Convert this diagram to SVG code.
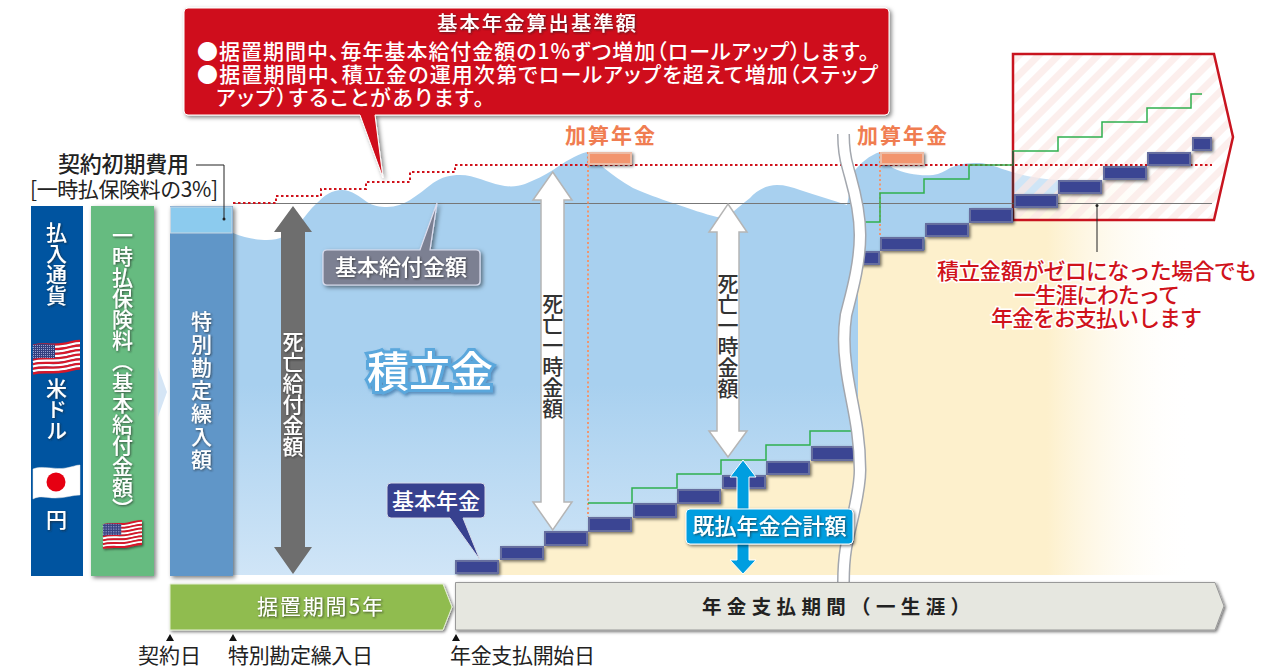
<svg xmlns="http://www.w3.org/2000/svg" width="1284" height="666" viewBox="0 0 1284 666">
<style>
text{font-family:"Noto Sans CJK JP","Liberation Sans",sans-serif}
.v{writing-mode:vertical-rl;text-anchor:start;font-size:21px;fill:#fff;font-weight:500}
.m{text-anchor:middle}
.ts{filter:url(#ts)}
.p{font-feature-settings:"palt";font-weight:500}
.bar{fill:#3a4493;stroke:#666e9f;stroke-width:2}
.pe{fill:#f2956e;stroke:#ecbba5;stroke-width:2}
.g{fill:none;stroke:#2fb04f;stroke-width:1.500}
.red{fill:#d0121b;font-size:22px;font-weight:500;paint-order:stroke;stroke:#fff;stroke-width:3px}
.or{fill:#f07d51;font-size:21px;font-weight:700;letter-spacing:2px;text-anchor:middle}
.blk{fill:#222;font-size:21px}
.wa{fill:#fff;stroke:#b5b5b5;stroke-width:1.500}
</style>
<defs>
<filter id="sh" x="-20%" y="-20%" width="150%" height="150%"><feDropShadow dx="2" dy="2" stdDeviation="2" flood-color="#000" flood-opacity=".5"/></filter>
<filter id="sh2" x="-20%" y="-40%" width="150%" height="200%"><feDropShadow dx="1.500" dy="1.500" stdDeviation="1.500" flood-color="#000" flood-opacity=".55"/></filter>
<filter id="ts" x="-20%" y="-20%" width="150%" height="150%"><feDropShadow dx="1" dy="1" stdDeviation=".8" flood-color="#222" flood-opacity=".7"/></filter>
<filter id="glow" x="-20%" y="-30%" width="140%" height="160%"><feDropShadow dx="2" dy="2" stdDeviation="1.500" flood-color="#1d5f96" flood-opacity=".6"/></filter>
<linearGradient id="water" x1="0" y1="0" x2="0" y2="1"><stop offset="0" stop-color="#a8d0ef"/><stop offset=".55" stop-color="#a8d0ef"/><stop offset="1" stop-color="#d0e5f7"/></linearGradient>
<linearGradient id="beige" gradientUnits="userSpaceOnUse" x1="455" y1="0" x2="1195" y2="0"><stop offset="0" stop-color="#fdf0cc"/><stop offset=".8" stop-color="#fdf0cc"/><stop offset="1" stop-color="#fff" stop-opacity="0"/></linearGradient>
<pattern id="hatch" width="14" height="14" patternUnits="userSpaceOnUse" patternTransform="rotate(-45)"><rect width="14" height="14" fill="#fff" fill-opacity=".45"/><rect width="14" height="7" fill="#fce9e6" fill-opacity=".7"/></pattern>
<pattern id="stars" width="2" height="2" patternUnits="userSpaceOnUse"><rect width="2" height="2" fill="#34407f"/><rect width="1" height="1" fill="#9aa2d0"/></pattern>
<path id="w" d="M0,5 C10,2 20,5 30,3 S42,0 47,0" fill="none" stroke-width="2.500"/>
<g id="us">
<use href="#w" stroke="#d7182a"/><use href="#w" y="2.300" stroke="#fff"/><use href="#w" y="4.600" stroke="#d7182a"/><use href="#w" y="6.900" stroke="#fff"/><use href="#w" y="9.200" stroke="#d7182a"/><use href="#w" y="11.500" stroke="#fff"/><use href="#w" y="13.800" stroke="#d7182a"/><use href="#w" y="16.100" stroke="#fff"/><use href="#w" y="18.400" stroke="#d7182a"/><use href="#w" y="20.700" stroke="#fff"/><use href="#w" y="23" stroke="#d7182a"/><use href="#w" y="25.300" stroke="#fff"/><use href="#w" y="27.600" stroke="#d7182a"/>
<path d="M0,4 C7,2 14,3.500 22,3.600 V17 C14,17 7,16 0,18Z" fill="url(#stars)"/>
</g>
</defs>

<g id="background">
<path id="water-area" fill="url(#water)" d="M233,233 C245,238 258,240 267,240 C280,240 287,235 293,230 C303,220 310,209 317,203 C325,195 332,190 342,190 C352,190 360,197 367,202 C373,206 380,207 387,207 C396,207 403,204 410,200 C418,195 425,189 433,183 C442,177 450,175 460,175 C475,175 488,183 500,185 C507,187 517,187 525,184 C535,180 545,175 553,170 C565,162 575,155 587,152 C595,160 610,175 633,188 C645,193 660,199 673,203 C690,209 705,214 717,217 C722,217 727,215 733,212 C740,206 745,202 750,198 C757,190 767,185 777,185 C785,185 792,187 800,190 C815,195 832,200 847,205 L853,173 C860,163 870,155 880,152 C885,160 890,166 893,168 C905,174 920,176 933,175 C940,174 945,171 950,168 C958,164 968,163 977,163 C985,163 990,165 997,167 C1010,172 1030,178 1058,180 L1058,194 L1014,208 L1014,575 L233,575Z"/>
<path id="annuity-area" fill="url(#beige)" d="M498,575 V559 H544 V545 H588 V531 H632 V517 H677 V503 H721 V488 H766 V474 H810 V460 H858 V264 H880 V250 H925 V236 H969 V222 H1014 V207 H1058 V193 H1103 V179 H1147 V165 H1191 V575Z"/>
</g>

<g id="node-currency">
<rect x="31" y="206" width="52" height="370" fill="#0054a0"/>
<text class="v ts" x="56.500" y="222">払入通貨</text>
<use href="#us" transform="translate(33,341)"/>
<text class="v ts" x="56.500" y="378">米ドル</text>
<path d="M33,469 C42,465 55,470 66,468 C72,467 76,465 80,465 V495 C72,495 66,498 55,498 C47,498 40,495 33,499Z" fill="#fff" stroke="#e5e5e5" stroke-width=".5"/>
<circle cx="56" cy="482" r="9.500" fill="#e60012"/>
<text class="v ts" x="56.500" y="509">円</text>
</g>

<g id="node-premium">
<rect x="91" y="206" width="63" height="370" fill="#66bb80" filter="url(#sh)"/>
<text class="v ts" x="122.500" y="225">一時払保険料（基本給付金額）</text>
<use href="#us" transform="translate(103,521) scale(.83)" filter="url(#sh2)"/>
</g>

<path id="chevron" d="M158,367 L167,392 L158,417Z" fill="#d5e5f5"/>

<g id="node-special">
<rect x="170" y="206" width="63" height="370" fill="#6096c8" filter="url(#sh)"/>
<rect x="170.500" y="207" width="61.500" height="26" fill="#8ccbee" stroke="#c8d6e2" stroke-width="1"/>
<text class="v ts" x="201.500" y="311" style="letter-spacing:2px">特別勘定繰入額</text>
</g>

<g id="node-redbox">
<path d="M1013,54 H1214 L1233,137 L1214,220 H1013Z" fill="url(#hatch)" stroke="#c8141f" stroke-width="2.500"/>
</g>

<g id="connectors">
<path d="M233,203.500 H1212" stroke="#777" stroke-width="1" fill="none"/>
<path d="M233,203 H276 V196 H321 V189 H366 V182 H410 V172 H455 V165 H1212" stroke="#d0121b" stroke-width="2" stroke-dasharray="2.500 2.500" fill="none"/>
<path d="M588,152 V517 M880,152 V237" stroke="#f2956e" stroke-width="2" stroke-dasharray="2 2.500" fill="none"/>
<path class="g" d="M588,503 H632 V488 H677 V474 H721 V460 H766 V445 H810 V431 H852"/>
<path class="g" d="M862,222 H880 V193 H924 V179 H969 V165 H1013 V151 H1058 V137 H1102 V122 H1147 V108 H1191 V94 H1202"/>
<path d="M1013,151 V220" stroke="#333" stroke-width="1.200"/>
<path d="M196,165 H224 V219" fill="none" stroke="#222" stroke-width="1"/>
<circle cx="224" cy="219" r="1.500" fill="#222"/>
<path d="M1097,205 V252" stroke="#222" stroke-width="1"/>
<circle cx="1097" cy="205.500" r="1.500" fill="#222"/>
</g>

<g id="steps" filter="url(#sh2)">
<rect class="bar" x="456" y="561" width="42" height="12"/><rect class="bar" x="501" y="547" width="42" height="12"/><rect class="bar" x="545" y="532" width="42" height="13"/><rect class="bar" x="589" y="518" width="42" height="13"/><rect class="bar" x="634" y="504" width="42" height="13"/><rect class="bar" x="678" y="490" width="42" height="13"/><rect class="bar" x="723" y="476" width="42" height="12"/><rect class="bar" x="767" y="462" width="42" height="12"/><rect class="bar" x="812" y="447" width="44" height="13"/>
<rect class="bar" x="856" y="252" width="23" height="12"/><rect class="bar" x="881" y="238" width="42" height="12"/><rect class="bar" x="926" y="224" width="42" height="12"/><rect class="bar" x="970" y="209" width="42" height="13"/><rect class="bar" x="1015" y="195" width="42" height="12"/><rect class="bar" x="1059" y="181" width="42" height="12"/><rect class="bar" x="1104" y="167" width="42" height="12"/><rect class="bar" x="1148" y="153" width="42" height="12"/><rect class="bar" x="1193" y="138" width="18" height="12"/>
<rect class="pe" x="589" y="153" width="42" height="11"/><rect class="pe" x="881" y="153" width="42" height="11"/>
</g>

<path id="break-edge" d="M843.500,134 C843.500,150 845,158 848,168 C851,180 860,205 860,235 C860,265 851,295 846,315 C843,335 844,350 846,365 C849,395 860,425 860,470 C860,495 850,525 846,548 C844,560 843.500,570 843.500,583" fill="none" stroke="#a3a7ae" stroke-width="13"/>
<path id="break" d="M843.500,134 C843.500,150 845,158 848,168 C851,180 860,205 860,235 C860,265 851,295 846,315 C843,335 844,350 846,365 C849,395 860,425 860,470 C860,495 850,525 846,548 C844,560 843.500,570 843.500,583" fill="none" stroke="#fff" stroke-width="10"/>

<g id="node-addition1"><text class="or" x="611" y="143">加算年金</text></g>
<g id="node-addition2"><text class="or" x="903" y="143">加算年金</text></g>

<g id="node-callout">
<path d="M188,8 H885 Q889,8 889,12 V111 Q889,115 885,115 H375 L383,178 L360,115 H188 Q184,115 184,111 V12 Q184,8 188,8Z" fill="#cf111a" stroke="#fff" stroke-width="1" filter="url(#sh)"/>
<text class="ts p" x="437" y="31" fill="#fff" font-size="20.500" textLength="199">基本年金算出基準額</text>
<text class="p" x="197" y="59" fill="#fff" font-size="21" textLength="672">●据置期間中、毎年基本給付金額の1%ずつ増加（ロールアップ）します。</text>
<text class="p" x="197" y="82" fill="#fff" font-size="21" textLength="681">●据置期間中、積立金の運用次第でロールアップを超えて増加（ステップ</text>
<text class="p" x="216" y="105" fill="#fff" font-size="21" textLength="268">アップ）することがあります。</text>
</g>

<g id="node-contract-fee">
<text x="58" y="172" fill="#222" font-size="22" font-weight="500" textLength="131">契約初期費用</text>
<text x="30" y="197" fill="#222" font-size="21" textLength="188">[一時払保険料の3%]</text>
</g>

<g id="node-base-benefit">
<path d="M327,250 H420 L437,203 L430,250 H476 Q480,250 480,254 V281 Q480,285 476,285 H327 Q323,285 323,281 V254 Q323,250 327,250Z" fill="#7b8092" stroke="#dde" stroke-width="1.200" filter="url(#sh)"/>
<text class="ts m" x="401" y="275" fill="#fff" font-size="22" font-weight="500">基本給付金額</text>
</g>

<g id="node-death-arrow">
<path d="M293,206 L312,232 H305 V547 H312 L293,574 L274,547 H281 V232 H274Z" fill="#6e6e6e"/>
<text class="v ts" x="293" y="331">死亡給付金額</text>
</g>

<g id="node-reserve"><text class="m" x="430" y="387" font-size="42" font-weight="500" fill="#fff" stroke="#5aa7dc" stroke-width="6" paint-order="stroke" filter="url(#glow)">積立金</text></g>

<g id="node-lump1">
<path class="wa" d="M552.700,172 L572,200 H564 V502 H572 L552.700,530 L533,502 H541 V200 H533Z"/>
<text class="v" x="552.700" y="293" style="fill:#333">死亡一時金額</text>
</g>
<g id="node-lump2">
<path class="wa" d="M728,204 L747,232 H739 V431 H747 L728,457 L709,431 H717 V232 H709Z"/>
<text class="v" x="728" y="273" style="fill:#333">死亡一時金額</text>
</g>

<g id="node-base-annuity">
<path d="M391,483 H481 Q485,483 485,487 V514 Q485,518 481,518 H463 L480,560 L450,518 H391 Q387,518 387,514 V487 Q387,483 391,483Z" fill="#37418f" stroke="#d7dbe8" stroke-width="1"/>
<text class="m" x="436" y="509" fill="#fff" font-size="22" font-weight="500">基本年金</text>
</g>

<g id="node-paid-total">
<path d="M743,460 L756,477 H749 V560 H756 L743,574 L730,560 H737 V477 H730Z" fill="#009ee0" stroke="#fff" stroke-width="1"/>
<rect x="686" y="509" width="167" height="35" rx="4" fill="#009ee0" stroke="#fff" stroke-width="1" filter="url(#sh2)"/>
<text class="ts m" x="769.500" y="534" fill="#fff" font-size="22" font-weight="500">既払年金合計額</text>
</g>

<g id="node-zero-note">
<text class="red" x="937" y="279" textLength="320">積立金額がゼロになった場合でも</text>
<text class="red" x="1014" y="303" textLength="166">一生涯にわたって</text>
<text class="red" x="991" y="326" textLength="211">年金をお支払いします</text>
</g>

<g id="node-deferral">
<path d="M170,584 H443 L452,607 L443,630 H170Z" fill="#90bc4f" stroke="#e4eed4" stroke-width="1" filter="url(#sh2)"/>
<text class="ts" x="257" y="614" fill="#fff" font-size="21" textLength="126">据置期間5年</text>
</g>

<g id="node-payout">
<path d="M455.500,582.500 H1215 L1224,606 L1215,630 H455.500Z" fill="#e6e7e0" stroke="#999" stroke-width="1" filter="url(#sh2)"/>
<text x="702" y="614" fill="#222" font-size="19.500" font-weight="700" textLength="268">年金支払期間（一生涯）</text>
</g>

<g id="timeline">
<path d="M170,634 L174,641 H166Z M233,634 L237,641 H229Z M456,634 L460,641 H452Z" fill="#111"/>
<text class="blk" x="138" y="663" textLength="63">契約日</text>
<text class="blk" x="228" y="663" textLength="145">特別勘定繰入日</text>
<text class="blk" x="450" y="663" textLength="145">年金支払開始日</text>
</g>
</svg>
